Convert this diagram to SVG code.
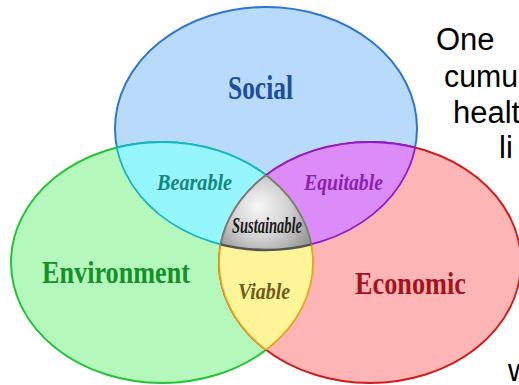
<svg xmlns="http://www.w3.org/2000/svg" width="519" height="385" viewBox="0 0 519 385">
  <style>
    .main { font-family: "Liberation Serif", "Times New Roman", serif; font-weight: bold; }
    .sub { font-family: "Liberation Serif", "Times New Roman", serif; font-weight: bold; font-style: italic; }
    .side { font-family: "Liberation Sans", Arial, sans-serif; font-size: 31px; fill: #000; }
    .none { fill: none; }
  </style>
  <defs>
    <clipPath id="cB"><ellipse cx="266" cy="128.5" rx="151" ry="121.5"/></clipPath>
    <clipPath id="cG"><ellipse cx="162" cy="262.5" rx="151" ry="120.5"/></clipPath>
    <clipPath id="cR"><ellipse cx="370" cy="262.5" rx="151" ry="120.5"/></clipPath>
    <radialGradient id="grayGrad" gradientUnits="userSpaceOnUse" cx="262" cy="212" r="52" fx="258" fy="206">
      <stop offset="0" stop-color="#f7f7f7"/>
      <stop offset="0.55" stop-color="#d2d2d2"/>
      <stop offset="1" stop-color="#9a9a9a"/>
    </radialGradient>
  </defs>

  <g id="social">
    <ellipse cx="266" cy="128.5" rx="151" ry="121.5" fill="#b9dbfb" stroke="#2e76d0" stroke-width="2"/>
    <text class="main" x="228" y="99" font-size="34" fill="#1a4f9e" textLength="65" lengthAdjust="spacingAndGlyphs">Social</text>
  </g>

  <g id="environment">
    <ellipse cx="162" cy="262.5" rx="151" ry="120.5" fill="#b5f8bb" stroke="#22c435" stroke-width="2"/>
    <text class="main" x="42" y="283" font-size="31" fill="#16902a" textLength="148" lengthAdjust="spacingAndGlyphs">Environment</text>
  </g>

  <g id="economic">
    <ellipse cx="370" cy="262.5" rx="151" ry="120.5" fill="#fdb5b5" stroke="#d41a1a" stroke-width="2"/>
    <text class="main" x="355" y="294" font-size="31" fill="#a3141f" textLength="111" lengthAdjust="spacingAndGlyphs">Economic</text>
  </g>

  <g id="bearable">
    <g clip-path="url(#cG)">
      <ellipse cx="266" cy="128.5" rx="151" ry="121.5" fill="#95f6fd" stroke="#18b4c6" stroke-width="1.8"/>
    </g>
    <g clip-path="url(#cB)">
      <ellipse class="none" cx="162" cy="262.5" rx="151" ry="120.5" stroke="#18b4c6" stroke-width="1.8"/>
    </g>
    <text class="sub" x="157" y="190" font-size="24" fill="#16867a" textLength="75" lengthAdjust="spacingAndGlyphs">Bearable</text>
  </g>

  <g id="equitable">
    <g clip-path="url(#cR)">
      <ellipse cx="266" cy="128.5" rx="151" ry="121.5" fill="#dc8cf8" stroke="#8e1cc7" stroke-width="1.8"/>
    </g>
    <g clip-path="url(#cB)">
      <ellipse class="none" cx="370" cy="262.5" rx="151" ry="120.5" stroke="#8e1cc7" stroke-width="1.8"/>
    </g>
    <text class="sub" x="304" y="190" font-size="24" fill="#8c1fb0" textLength="79" lengthAdjust="spacingAndGlyphs">Equitable</text>
  </g>

  <g id="viable">
    <g clip-path="url(#cR)">
      <ellipse cx="162" cy="262.5" rx="151" ry="120.5" fill="#fdf597" stroke="#e7a41a" stroke-width="1.8"/>
    </g>
    <g clip-path="url(#cG)">
      <ellipse class="none" cx="370" cy="262.5" rx="151" ry="120.5" stroke="#e7a41a" stroke-width="1.8"/>
    </g>
    <text class="sub" x="238" y="299" font-size="23" fill="#6e5c18" textLength="52" lengthAdjust="spacingAndGlyphs">Viable</text>
  </g>

  <g id="sustainable">
    <g clip-path="url(#cB)">
      <g clip-path="url(#cG)">
        <ellipse cx="370" cy="262.5" rx="151" ry="120.5" fill="url(#grayGrad)" stroke="#7a7a7a" stroke-width="1.8"/>
      </g>
    </g>
    <g clip-path="url(#cB)">
      <g clip-path="url(#cR)">
        <ellipse class="none" cx="162" cy="262.5" rx="151" ry="120.5" stroke="#7a7a7a" stroke-width="1.8"/>
      </g>
    </g>
    <g clip-path="url(#cG)">
      <g clip-path="url(#cR)">
        <ellipse class="none" cx="266" cy="128.5" rx="151" ry="121.5" stroke="#555555" stroke-width="2.6"/>
      </g>
    </g>
    <text class="sub" x="232" y="233" font-size="24" fill="#1a1a1a" textLength="70" lengthAdjust="spacingAndGlyphs">Sustainable</text>
  </g>

  <g id="side-text">
    <text class="side" x="436" y="50">One</text>
    <text class="side" x="444" y="86.5" textLength="74" lengthAdjust="spacingAndGlyphs">cumu</text>
    <text class="side" x="453" y="122.5">healt</text>
    <text class="side" x="499" y="157.5">li</text>
    <text class="side" x="508" y="381">w</text>
  </g>
</svg>
